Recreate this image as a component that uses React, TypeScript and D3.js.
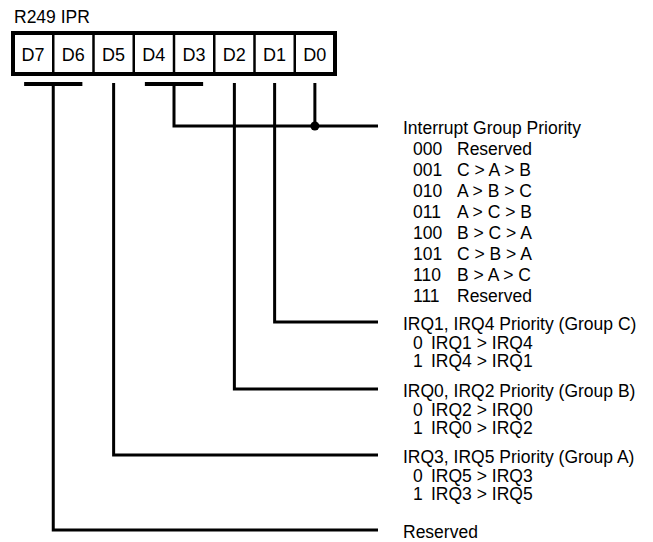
import React from "react";
import * as d3 from "d3";

const registerName = "R249 IPR";
const bits = ["D7", "D6", "D5", "D4", "D3", "D2", "D1", "D0"];

const fieldTitles = [
  "Interrupt Group Priority",
  "IRQ1, IRQ4 Priority (Group C)",
  "IRQ0, IRQ2 Priority (Group B)",
  "IRQ3, IRQ5 Priority (Group A)",
  "Reserved",
];
// bits grouped under a bar, plus single bits for each field
const fieldBits = [["D4", "D3", "D0"], ["D1"], ["D2"], ["D5"], ["D7", "D6"]];

const priorityCodes = ["000", "001", "010", "011", "100", "101", "110", "111"];
const priorityOrders = [
  "Reserved",
  "C > A > B",
  "A > B > C",
  "A > C > B",
  "B > C > A",
  "C > B > A",
  "B > A > C",
  "Reserved",
];

const groupCCodes = ["0", "1"];
const groupCOrders = ["IRQ1 > IRQ4", "IRQ4 > IRQ1"];
const groupBCodes = ["0", "1"];
const groupBOrders = ["IRQ2 > IRQ0", "IRQ0 > IRQ2"];
const groupACodes = ["0", "1"];
const groupAOrders = ["IRQ5 > IRQ3", "IRQ3 > IRQ5"];

const W = 653;
const H = 542;
const FONT = "'Liberation Sans', Arial, Helvetica, sans-serif";

export default function App() {
  const x = d3.scaleBand<string>().domain(bits).range([13, 335]).padding(0);
  const bw = x.bandwidth();
  const cx = (b: string) => (x(b) as number) + bw / 2;

  const boxTop = 33;
  const boxBot = 74;
  const barY = 84;
  const lineEnd = 378;
  const lineY = [126, 322, 389, 455, 530];
  const headerX = 403;
  const codeX = 413;

  const subTables = [
    { codes: priorityCodes, orders: priorityOrders, descX: 457, step: 21 },
    { codes: groupCCodes, orders: groupCOrders, descX: 431, step: 18.5 },
    { codes: groupBCodes, orders: groupBOrders, descX: 431, step: 18.5 },
    { codes: groupACodes, orders: groupAOrders, descX: 431, step: 18.5 },
    null,
  ];

  const connectors: JSX.Element[] = [];
  fieldBits.forEach((fb, i) => {
    const y = lineY[i];
    if (fb.length === 1) {
      const xx = cx(fb[0]);
      connectors.push(
        <path
          key={"c" + i}
          d={`M${xx},${barY - 1}V${y}H${lineEnd}`}
          fill="none"
          stroke="#000"
          strokeWidth={3}
        />
      );
    } else {
      const pair = fb.slice(0, 2);
      const x0 = cx(pair[0]) - 9;
      const x1 = cx(pair[1]) + 9;
      const mid = x(pair[1]) as number;
      connectors.push(
        <line key={"b" + i} x1={x0} x2={x1} y1={barY} y2={barY} stroke="#000" strokeWidth={4} />
      );
      connectors.push(
        <path
          key={"c" + i}
          d={`M${mid},${barY}V${y}H${lineEnd}`}
          fill="none"
          stroke="#000"
          strokeWidth={3}
        />
      );
      if (fb.length > 2) {
        const xx = cx(fb[2]);
        connectors.push(
          <line key={"e" + i} x1={xx} x2={xx} y1={barY - 1} y2={y} stroke="#000" strokeWidth={3} />
        );
        connectors.push(<circle key={"d" + i} cx={xx} cy={y} r={4.5} fill="#000" />);
      }
    }
  });

  return (
    <svg
      width={W}
      height={H}
      style={{ position: "absolute", left: 0, top: 0, background: "#fff" }}
      fontFamily={FONT}
    >
      <rect width={W} height={H} fill="#fff" />
      <text x={14} y={23} fontSize={17.5}>
        {registerName}
      </text>
      {bits.map((b, i) =>
        i > 0 ? (
          <line
            key={"div" + b}
            x1={x(b)}
            x2={x(b)}
            y1={boxTop}
            y2={boxBot}
            stroke="#000"
            strokeWidth={2.5}
          />
        ) : null
      )}
      <rect
        x={13}
        y={boxTop}
        width={322}
        height={boxBot - boxTop}
        fill="none"
        stroke="#000"
        strokeWidth={4}
      />
      {bits.map((b) => (
        <text key={"t" + b} x={cx(b)} y={61} fontSize={18} textAnchor="middle">
          {b}
        </text>
      ))}
      {connectors}
      {fieldTitles.map((t, i) => {
        const hb = lineY[i] + 8;
        const st = subTables[i];
        return (
          <g key={"f" + i}>
            <text x={headerX} y={hb} fontSize={17.5}>
              {t}
            </text>
            {st &&
              st.codes.map((c, j) => (
                <g key={"r" + j}>
                  <text x={codeX} y={hb + st.step * (j + 1)} fontSize={17.5}>
                    {c}
                  </text>
                  <text x={st.descX} y={hb + st.step * (j + 1)} fontSize={17.5}>
                    {st.orders[j]}
                  </text>
                </g>
              ))}
          </g>
        );
      })}
    </svg>
  );
}
